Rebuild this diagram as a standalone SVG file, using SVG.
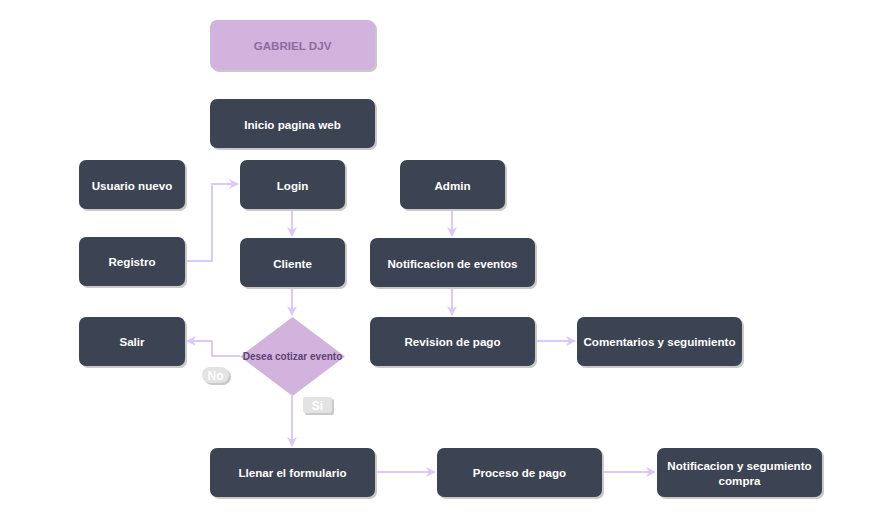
<svg xmlns="http://www.w3.org/2000/svg" width="873" height="523" viewBox="0 0 873 523">
<defs>
<style>
.n rect.b{fill:#3c4453;}
.n rect.s{fill:#c9c9c9;}
.t{font-family:"Liberation Sans",Arial,sans-serif;font-size:11.6px;font-weight:bold;fill:#ffffff;text-anchor:middle;dominant-baseline:central;}
.c{fill:none;stroke:#dcc8fb;stroke-width:2;}
.lbl{font-family:"Liberation Sans",Arial,sans-serif;font-size:12px;font-weight:bold;fill:#ffffff;text-anchor:middle;dominant-baseline:central;}
</style>
<marker id="ar" viewBox="0 0 10 10" refX="9" refY="5" markerWidth="10" markerHeight="10" markerUnits="userSpaceOnUse" orient="auto">
<path d="M0,0 L10,5 L0,10 L3,5 Z" fill="#dcc8fb"/>
</marker>
</defs>
<rect width="873" height="523" fill="#ffffff"/>

<g id="connectors">
<polyline class="c" points="185,261 212,261 212,184 238,184" marker-end="url(#ar)"/>
<line class="c" x1="292" y1="209" x2="292" y2="236" marker-end="url(#ar)"/>
<line class="c" x1="292" y1="287" x2="292" y2="315" marker-end="url(#ar)"/>
<polyline class="c" points="240,356 212,356 212,341 187,341" marker-end="url(#ar)"/>
<line class="c" x1="292" y1="396" x2="292" y2="446" marker-end="url(#ar)"/>
<line class="c" x1="452" y1="209" x2="452" y2="236" marker-end="url(#ar)"/>
<line class="c" x1="452" y1="287" x2="452" y2="315" marker-end="url(#ar)"/>
<line class="c" x1="535" y1="341" x2="575" y2="341" marker-end="url(#ar)"/>
<line class="c" x1="375" y1="472" x2="435" y2="472" marker-end="url(#ar)"/>
<line class="c" x1="602" y1="472" x2="655" y2="472" marker-end="url(#ar)"/>
<g id="label-no">
<rect x="204" y="369" width="27" height="16" rx="8" fill="#c9c9c9"/>
<rect x="202" y="367" width="27" height="16" rx="8" fill="#e3e3e3"/>
<text class="lbl" x="215.5" y="375.5">No</text>
</g>
<g id="label-si">
<rect x="305" y="399" width="29" height="16" rx="2" fill="#c9c9c9"/>
<rect x="303" y="397" width="29" height="16" rx="2" fill="#e3e3e3"/>
<text class="lbl" x="317.5" y="405.5">Si</text>
</g>
</g>

<g id="gabriel">
<rect x="212" y="22" width="165" height="50" rx="7" fill="#c9c9c9"/>
<rect x="210" y="20" width="165" height="50" rx="7" fill="#d1b3de"/>
<text x="292.5" y="45.5" style="font-family:'Liberation Sans',Arial,sans-serif;font-size:11.6px;font-weight:bold;fill:#8d6c9d;text-anchor:middle;dominant-baseline:central;">GABRIEL DJV</text>
</g>

<g id="inicio" class="n">
<rect class="s" x="212" y="101" width="165" height="49" rx="7"/>
<rect class="b" x="210" y="99" width="165" height="49" rx="7"/>
<text class="t" x="292.5" y="124.5">Inicio pagina web</text>
</g>

<g id="usuario" class="n">
<rect class="s" x="81" y="162" width="106" height="49" rx="7"/>
<rect class="b" x="79" y="160" width="106" height="49" rx="7"/>
<text class="t" x="132" y="185.5">Usuario nuevo</text>
</g>

<g id="login" class="n">
<rect class="s" x="242" y="162" width="105" height="49" rx="7"/>
<rect class="b" x="240" y="160" width="105" height="49" rx="7"/>
<text class="t" x="292.5" y="185.5">Login</text>
</g>

<g id="admin" class="n">
<rect class="s" x="402" y="162" width="105" height="49" rx="7"/>
<rect class="b" x="400" y="160" width="105" height="49" rx="7"/>
<text class="t" x="452.5" y="185.5">Admin</text>
</g>

<g id="registro" class="n">
<rect class="s" x="81" y="239" width="106" height="49" rx="7"/>
<rect class="b" x="79" y="237" width="106" height="49" rx="7"/>
<text class="t" x="132" y="261.5">Registro</text>
</g>

<g id="cliente" class="n">
<rect class="s" x="242" y="240" width="105" height="49" rx="7"/>
<rect class="b" x="240" y="238" width="105" height="49" rx="7"/>
<text class="t" x="292.5" y="263.5">Cliente</text>
</g>

<g id="notif-eventos" class="n">
<rect class="s" x="372" y="240" width="165" height="49" rx="7"/>
<rect class="b" x="370" y="238" width="165" height="49" rx="7"/>
<text class="t" x="452.5" y="263.5">Notificacion de eventos</text>
</g>

<g id="salir" class="n">
<rect class="s" x="81" y="319" width="106" height="49" rx="7"/>
<rect class="b" x="79" y="317" width="106" height="49" rx="7"/>
<text class="t" x="132" y="341.5">Salir</text>
</g>

<g id="decision">
<polygon points="292.5,317 345,356.5 292.5,396 240,356.5" fill="#d1b3de"/>
<text x="292.5" y="356.5" style="font-family:'Liberation Sans',Arial,sans-serif;font-size:10px;font-weight:bold;fill:#5e4270;text-anchor:middle;dominant-baseline:central;">Desea cotizar evento</text>
</g>

<g id="revision" class="n">
<rect class="s" x="372" y="319" width="165" height="49" rx="7"/>
<rect class="b" x="370" y="317" width="165" height="49" rx="7"/>
<text class="t" x="452.5" y="341.5">Revision de pago</text>
</g>

<g id="comentarios" class="n">
<rect class="s" x="579" y="319" width="165" height="49" rx="7"/>
<rect class="b" x="577" y="317" width="165" height="49" rx="7"/>
<text class="t" x="659.5" y="341.5">Comentarios y seguimiento</text>
</g>

<g id="llenar" class="n">
<rect class="s" x="212" y="450" width="165" height="49" rx="7"/>
<rect class="b" x="210" y="448" width="165" height="49" rx="7"/>
<text class="t" x="292.5" y="472.5">Llenar el formulario</text>
</g>

<g id="proceso" class="n">
<rect class="s" x="439" y="450" width="165" height="49" rx="7"/>
<rect class="b" x="437" y="448" width="165" height="49" rx="7"/>
<text class="t" x="519.5" y="472.5">Proceso de pago</text>
</g>

<g id="notif-compra" class="n">
<rect class="s" x="659" y="450" width="165" height="49" rx="7"/>
<rect class="b" x="657" y="448" width="165" height="49" rx="7"/>
<text class="t" x="739.5" y="465">Notificacion y segumiento</text>
<text class="t" x="739.5" y="480">compra</text>
</g>
</svg>
